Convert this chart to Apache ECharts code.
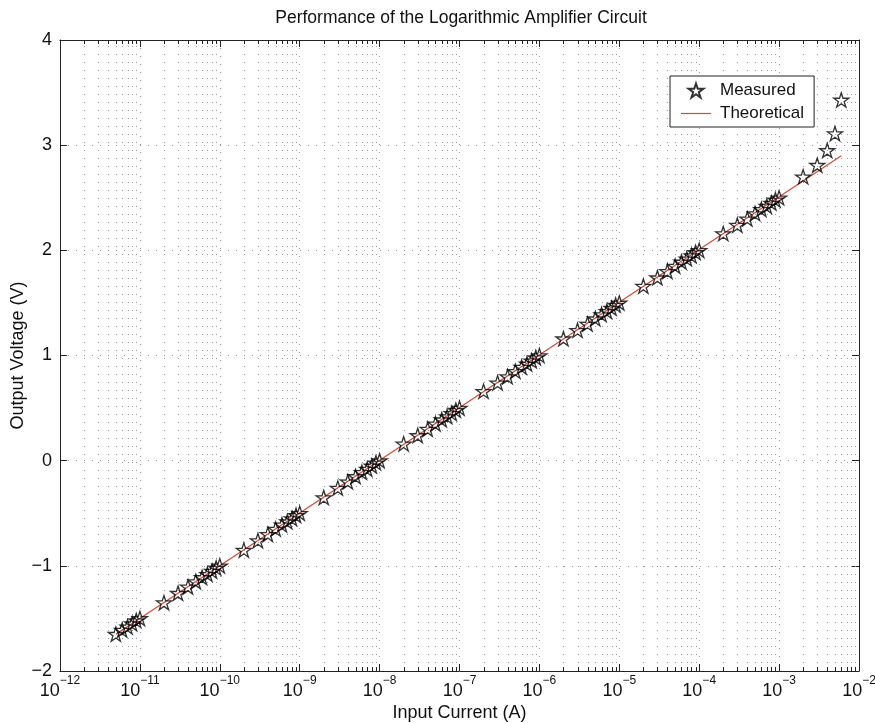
<!DOCTYPE html>
<html>
<head>
<meta charset="utf-8">
<script src="https://cdn.jsdelivr.net/npm/echarts@6/dist/echarts.min.js"></script>
<style>html,body{margin:0;padding:0;background:#fff}#c{width:875px;height:723px}</style>
</head>
<body>
<div id="c"></div>
<script>
const titleText = 'Performance of the Logarithmic Amplifier Circuit';
const xName = 'Input Current (A)';
const yName = 'Output Voltage (V)';
const xExponents = [-12,-11,-10,-9,-8,-7,-6,-5,-4,-3,-2];
const xExpLabels = ['\u221212','\u221211','\u221210','\u22129','\u22128','\u22127','\u22126','\u22125','\u22124','\u22123','\u22122'];
const yTicks = [-2,-1,0,1,2,3,4];
const yTickLabels = ['\u22122','\u22121','0','1','2','3','4'];

const measuredX = [
  5e-12,6e-12,7e-12,8e-12,9e-12,
  1e-11,2e-11,3e-11,4e-11,5e-11,6e-11,7e-11,8e-11,9e-11,
  1e-10,2e-10,3e-10,4e-10,5e-10,6e-10,7e-10,8e-10,9e-10,
  1e-9,2e-9,3e-9,4e-9,5e-9,6e-9,7e-9,8e-9,9e-9,
  1e-8,2e-8,3e-8,4e-8,5e-8,6e-8,7e-8,8e-8,9e-8,
  1e-7,2e-7,3e-7,4e-7,5e-7,6e-7,7e-7,8e-7,9e-7,
  1e-6,2e-6,3e-6,4e-6,5e-6,6e-6,7e-6,8e-6,9e-6,
  1e-5,2e-5,3e-5,4e-5,5e-5,6e-5,7e-5,8e-5,9e-5,
  1e-4,2e-4,3e-4,4e-4,5e-4,6e-4,7e-4,8e-4,9e-4,
  1e-3,2e-3,3e-3,4e-3,5e-3,6e-3
];
const measuredY = [
  -1.65,-1.61,-1.58,-1.55,-1.52,
  -1.50,-1.35,-1.26,-1.20,-1.15,-1.11,-1.08,-1.05,-1.02,
  -1.00,-0.85,-0.76,-0.70,-0.65,-0.61,-0.58,-0.55,-0.52,
  -0.50,-0.35,-0.26,-0.20,-0.15,-0.11,-0.08,-0.05,-0.02,
  0.00,0.16,0.24,0.30,0.35,0.39,0.42,0.45,0.48,
  0.50,0.66,0.74,0.80,0.85,0.89,0.92,0.95,0.98,
  1.00,1.16,1.24,1.30,1.35,1.39,1.42,1.45,1.48,
  1.50,1.66,1.74,1.80,1.85,1.89,1.92,1.95,1.98,
  2.00,2.16,2.24,2.30,2.35,2.39,2.42,2.45,2.48,
  2.50,2.70,2.81,2.95,3.11,3.43
];
const theoX = [5e-12, 6e-3];
const theoY = [-1.65, 2.90];

// minor tick positions of the log axis (2..9 x 10^k)
const minorX = [];
for (let k = -12; k <= -3; k++) for (let m = 2; m <= 9; m++) minorX.push([m * Math.pow(10, k), 0]);

const FONT = 'Liberation Sans, Arial, Helvetica, sans-serif';
const STAR = 'path://M50,0 L61.17,34.63 L97.55,34.55 L68.07,55.87 L79.39,90.45 L50,69 L20.61,90.45 L31.93,55.87 L2.45,34.55 L38.83,34.63 Z';
const LINE_ICON = 'path://M0,0 L30,0 L30,1.2 L0,1.2 Z';
const DOT = {color: '#999', width: 1, type: [1, 7]};

const chart = echarts.init(document.getElementById('c'), null, {renderer: 'canvas'});
const xLabelFmt = v => {
  const e = Math.round(Math.log10(v));
  const i = xExponents.indexOf(e);
  return '{b|10}{s|' + (i >= 0 ? xExpLabels[i] : e) + '}';
};
const yLabelFmt = v => {
  const i = yTicks.indexOf(Math.round(v));
  return i >= 0 ? yTickLabels[i] : String(v);
};
const axisLineStyle = {show: true, onZero: false, lineStyle: {color: '#222', width: 1}};
const tickStyle = {show: true, inside: true, length: 7, lineStyle: {color: '#222'}};

chart.setOption({
  animation: false,
  backgroundColor: '#fff',
  title: {
    text: titleText, left: 461, textAlign: 'center', top: 9, padding: 0,
    textStyle: {fontFamily: FONT, fontSize: 17.5, fontWeight: 'normal', color: '#111'}
  },
  grid: {left: 60, right: 16, top: 40, bottom: 52, containLabel: false, outerBoundsMode: 'none'},
  legend: {
    data: [{name: 'Measured'}, {name: 'Theoretical', icon: LINE_ICON}],
    orient: 'vertical', left: 670, top: 76,
    padding: [6, 10, 5, 11], itemGap: 6, itemWidth: 30, itemHeight: 14,
    backgroundColor: '#fff', borderColor: '#222', borderWidth: 1, borderRadius: 0,
    textStyle: {fontFamily: FONT, fontSize: 17, color: '#111', padding: [0, 0, 0, 4]}
  },
  xAxis: [{
    type: 'log', logBase: 10, min: 1e-12, max: 1e-2, splitNumber: 10,
    position: 'bottom',
    name: xName, nameLocation: 'middle', nameGap: 33, nameMoveOverlap: false,
    nameTextStyle: {fontFamily: FONT, fontSize: 18, color: '#111'},
    axisLine: axisLineStyle,
    axisTick: tickStyle,
    axisLabel: {
      margin: 4, formatter: xLabelFmt,
      rich: {
        b: {fontFamily: FONT, fontSize: 18, color: '#111', verticalAlign: 'bottom', lineHeight: 25},
        s: {fontFamily: FONT, fontSize: 12, color: '#111', verticalAlign: 'top', lineHeight: 12}
      }
    },
    splitLine: {show: true, lineStyle: DOT},
    minorTick: {show: false}
  }, {
    type: 'log', logBase: 10, min: 1e-12, max: 1e-2, splitNumber: 10,
    position: 'top',
    axisLine: axisLineStyle,
    axisTick: tickStyle,
    axisLabel: {show: false}, splitLine: {show: false}
  }],
  yAxis: [{
    type: 'value', min: -2, max: 4, interval: 1, position: 'left',
    name: yName, nameLocation: 'middle', nameGap: 33, nameRotate: 90, nameMoveOverlap: false,
    nameTextStyle: {fontFamily: FONT, fontSize: 18, color: '#111'},
    axisLine: axisLineStyle,
    axisTick: tickStyle,
    axisLabel: {margin: 8, formatter: yLabelFmt, fontFamily: FONT, fontSize: 18, color: '#111'},
    splitLine: {show: true, lineStyle: DOT}
  }, {
    type: 'value', min: -2, max: 4, interval: 1, position: 'right',
    axisLine: axisLineStyle,
    axisTick: tickStyle,
    axisLabel: {show: false}, splitLine: {show: false}
  }],
  series: [{
    name: 'minor', type: 'custom', silent: true, z: 1,
    xAxisIndex: 0, yAxisIndex: 0,
    data: minorX,
    encode: {x: 0, y: 1},
    renderItem: function (params, api) {
      const cs = params.coordSys;
      const x = Math.round(api.coord([api.value(0), 0])[0]) + 0.5;
      const top = cs.y, bot = cs.y + cs.height;
      return {type: 'group', children: [
        {type: 'line', shape: {x1: x, y1: bot, x2: x, y2: top}, style: {stroke: '#999', lineWidth: 1, lineDash: [1, 7]}},
        {type: 'line', shape: {x1: x, y1: bot, x2: x, y2: bot - 4}, style: {stroke: '#222', lineWidth: 1}},
        {type: 'line', shape: {x1: x, y1: top, x2: x, y2: top + 4}, style: {stroke: '#222', lineWidth: 1}}
      ]};
    }
  }, {
    name: 'Theoretical', type: 'line', z: 3,
    data: theoX.map((x, i) => [x, theoY[i]]),
    symbol: 'none', showSymbol: false,
    lineStyle: {color: '#d8482e', width: 1.2},
    itemStyle: {color: '#d8482e'}
  }, {
    name: 'Measured', type: 'scatter', z: 4,
    data: measuredX.map((x, i) => [x, measuredY[i]]),
    symbol: STAR, symbolSize: 15, symbolKeepAspect: true,
    itemStyle: {color: 'rgba(255,255,255,0)', borderColor: '#000', borderWidth: 1.3}
  }]
});
</script>
</body>
</html>
